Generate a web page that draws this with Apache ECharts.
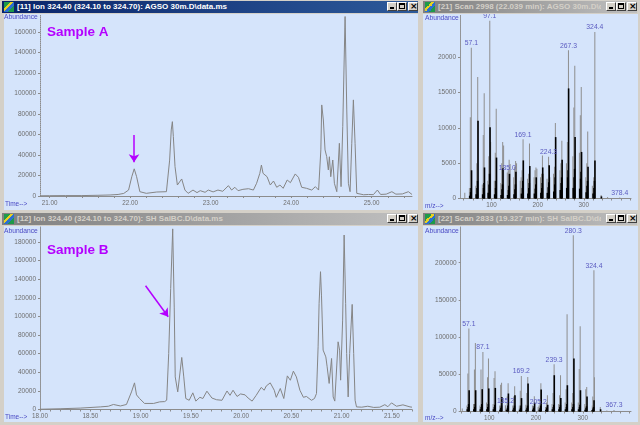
<!DOCTYPE html>
<html>
<head>
<meta charset="utf-8">
<script src="https://cdn.jsdelivr.net/npm/echarts@6/dist/echarts.min.js"></script>
<style>
html, body { margin: 0; padding: 0; width: 640px; height: 425px; overflow: hidden; background: #d4d0c8; font-family: "Liberation Sans", Arial, sans-serif; }
.bar { position: absolute; height: 12px; overflow: hidden; white-space: nowrap; color: #d4d0c8; font-weight: bold; font-size: 8px; line-height: 12px; background: linear-gradient(to right, #808080, #c0c0c0); }
.bar.active { background: linear-gradient(to right, #0a246a, #2d5a9a); color: #fff; }
.ico { position: absolute; left: 2px; top: 1px; width: 10px; height: 10px; background: linear-gradient(135deg, #1f9a4a 0 35%, #e8d020 35% 50%, #2c6fd0 50% 70%, #1f9a4a 70%); }
.ttl { position: absolute; left: 15px; top: 0; right: 36px; overflow: hidden; }
.btn { position: absolute; top: 1px; width: 10px; height: 9px; box-sizing: border-box; background: #d4d0c8; border: 1px solid; border-color: #fff #404040 #404040 #fff; }
.btn.min::after { content: ''; position: absolute; left: 2px; top: 4px; width: 4px; height: 2px; background: #000; }
.btn.max::after { content: ''; position: absolute; left: 1px; top: 0; width: 4px; height: 3px; border: 1px solid #000; border-top-width: 2px; }
.btn.cls::after { content: '\00d7'; position: absolute; left: 1px; top: -3px; font: bold 9px/12px "DejaVu Sans", sans-serif; color: #000; }
.plot { position: absolute; background: #d5e4fb; }
</style>
</head>
<body>
<div class="bar active" style="left:2px;top:1px;width:416px"><div class="ico"></div><div class="ttl">[11] Ion 324.40 (324.10 to 324.70): AGSO 30m.D\data.ms</div><div class="btn min" style="right:21px"></div><div class="btn max" style="right:11px"></div><div class="btn cls" style="right:0"></div></div>
<div class="bar" style="left:423px;top:1px;width:214px"><div class="ico"></div><div class="ttl">[21] Scan 2998 (22.039 min): AGSO 30m.D\data.ms</div><div class="btn min" style="right:21px"></div><div class="btn max" style="right:11px"></div><div class="btn cls" style="right:0"></div></div>
<div class="bar" style="left:2px;top:213px;width:416px"><div class="ico"></div><div class="ttl">[12] Ion 324.40 (324.10 to 324.70): SH SalBC.D\data.ms</div><div class="btn min" style="right:21px"></div><div class="btn max" style="right:11px"></div><div class="btn cls" style="right:0"></div></div>
<div class="bar" style="left:423px;top:213px;width:214px"><div class="ico"></div><div class="ttl">[22] Scan 2833 (19.327 min): SH SalBC.D\data.ms</div><div class="btn min" style="right:21px"></div><div class="btn max" style="right:11px"></div><div class="btn cls" style="right:0"></div></div>

<div id="ticA" class="plot" style="left:4px;top:14px;width:414px;height:196px"></div>
<div id="specA" class="plot" style="left:423px;top:14px;width:215px;height:196px"></div>
<div id="ticB" class="plot" style="left:4px;top:226px;width:414px;height:196px"></div>
<div id="specB" class="plot" style="left:423px;top:226px;width:215px;height:196px"></div>

<script>
// ion chromatogram, sample A: [time (min), abundance]
const chromA = [
  [20.88, 200], [21.00, 300], [21.20, 400], [21.40, 400], [21.60, 700], [21.75, 1000], [21.85, 1500],
  [21.92, 2500], [21.98, 5800], [22.02, 18800], [22.05, 26500], [22.08, 18800], [22.12, 4200],
  [22.20, 2600], [22.33, 3900], [22.45, 4200], [22.474, 5800], [22.49, 35000], [22.51, 64400],
  [22.524, 72500], [22.536, 57900], [22.557, 28600], [22.586, 10700], [22.61, 11000], [22.64, 16600],
  [22.68, 5800], [22.72, 2600], [22.78, 5800], [22.83, 3300], [22.87, 5200], [22.93, 3600],
  [22.97, 5800], [23.03, 4000], [23.09, 5800], [23.15, 4600], [23.22, 10100], [23.26, 5800],
  [23.30, 8500], [23.34, 5200], [23.40, 6500], [23.47, 7100], [23.53, 5800], [23.57, 12400],
  [23.61, 22100], [23.63, 30200], [23.65, 22100], [23.70, 18800], [23.74, 10700], [23.78, 14600],
  [23.82, 8500], [23.86, 10700], [23.90, 7500], [23.95, 15600], [23.99, 13000], [24.05, 21500],
  [24.09, 18200], [24.13, 8500], [24.19, 7500], [24.255, 5800], [24.30, 9100], [24.34, 5800],
  [24.358, 5800], [24.368, 44900], [24.379, 88800], [24.399, 74100], [24.420, 44900], [24.441, 38300],
  [24.461, 25400], [24.474, 38300], [24.491, 18800], [24.516, 35100], [24.536, 12400], [24.566, 4200],
  [24.598, 51400], [24.619, 9100], [24.640, 67600], [24.669, 175000], [24.690, 83900], [24.710, 12400],
  [24.731, 4200], [24.752, 51400], [24.772, 93700], [24.793, 51400], [24.814, 2600], [24.834, 1000],
  [24.90, 1200], [24.96, 1500], [25.02, 1300], [25.07, 5800], [25.11, 1500], [25.18, 1800],
  [25.25, 4200], [25.30, 1800], [25.38, 2000], [25.455, 4200], [25.50, 1500]
];

// ion chromatogram, sample B
const chromB = [
  [18.00, 300], [18.20, 800], [18.40, 1500], [18.60, 2800], [18.68, 3500], [18.73, 5400], [18.80, 3800],
  [18.86, 5400], [18.91, 18900], [18.94, 28600], [18.96, 15700], [18.99, 11800], [19.04, 6500],
  [19.13, 6500], [19.19, 8200], [19.24, 8500], [19.26, 10000], [19.28, 60000], [19.30, 130000],
  [19.32, 194000], [19.335, 110000], [19.345, 35000], [19.37, 18900], [19.41, 55900], [19.43, 35000],
  [19.45, 11800], [19.484, 9900], [19.52, 17900], [19.55, 9000], [19.59, 13100], [19.62, 11800],
  [19.66, 19700], [19.71, 12300], [19.756, 10500], [19.81, 9900], [19.86, 19900], [19.89, 15200],
  [19.92, 20700], [19.96, 14000], [19.995, 16700], [20.04, 15700], [20.07, 12300], [20.11, 9000],
  [20.15, 15200], [20.20, 23700], [20.23, 20700], [20.25, 25200], [20.29, 28600], [20.33, 20700],
  [20.35, 13100], [20.39, 22600], [20.425, 11800], [20.46, 36100], [20.49, 31400], [20.52, 41200],
  [20.55, 35000], [20.585, 20700], [20.62, 13100], [20.65, 14000], [20.70, 9900], [20.73, 11800],
  [20.75, 17200], [20.766, 67300], [20.776, 114000], [20.79, 148000], [20.80, 122000], [20.816, 63800],
  [20.832, 62000], [20.843, 56500], [20.856, 45800], [20.876, 28000], [20.90, 54800], [20.916, 13500],
  [20.932, 9000], [20.965, 72700], [20.98, 63800], [20.99, 31500], [21.01, 96000], [21.025, 187400],
  [21.04, 114000], [21.05, 60200], [21.065, 13500], [21.08, 60200], [21.105, 112900], [21.12, 60200],
  [21.134, 10000], [21.148, 2800], [21.20, 2500], [21.26, 3500], [21.32, 2200], [21.38, 2500],
  [21.43, 5200], [21.46, 3000], [21.496, 7100], [21.546, 3500], [21.61, 5000], [21.68, 2800], [21.70, 2500]
];

// mass spectrum, scan 2998 (sample A): [m/z, abundance]
const specAGray = [
  [43, 800], [53, 1500], [55, 11500], [57.1, 21350], [67, 1800], [69, 5000], [71, 17200],
  [81, 2000], [83, 9000], [85, 14900], [93, 2500], [95, 6000], [97.1, 25200], [99, 8000],
  [107, 2500], [109, 6500], [111, 12700], [121, 2200], [123, 5000], [125, 8000], [127, 7500],
  [135.0, 3700], [137, 4000], [139, 5500], [141, 4900], [149, 3000], [151, 4500], [153, 5300],
  [155, 5000], [163, 2500], [165, 3000], [167, 4000], [169.1, 8400], [179, 2800], [181, 3500],
  [183, 7800], [193, 3000], [195, 4000], [197, 4400], [199, 4200], [207, 3000], [209, 3500],
  [211, 6100], [213, 3500], [221, 2800], [224.3, 5900], [227, 3000], [235, 3500], [237, 4500],
  [239, 10700], [249, 4000], [251, 5000], [253, 8200], [263, 5000], [265, 8000], [267.3, 21000],
  [277, 6000], [279, 12900], [281, 18800], [291, 6500], [293, 11800], [295, 15800], [305, 3000],
  [307, 5000], [309, 9500], [319, 1800], [322, 3000], [324.4, 23600], [338, 500], [352, 200], [378.4, 150]
];
const specABlack = [
  [53, 400], [55, 900], [56, 1500], [57, 4000], [67, 600], [69, 1500], [70, 2500], [71, 11000],
  [81, 600], [83, 1500], [84, 2200], [85, 4400], [93, 800], [95, 2000], [96, 3500], [97, 10100],
  [107, 600], [109, 1500], [110, 2500], [111, 5800], [121, 500], [123, 1300], [124, 2000], [125, 4300],
  [135, 500], [137, 1200], [138, 1800], [139, 3500], [149, 600], [151, 1300], [152, 2000], [153, 3800],
  [165, 700], [167, 1500], [168, 2500], [169, 5400], [179, 700], [181, 1500], [182, 2200], [183, 4600],
  [193, 700], [195, 1400], [196, 2000], [197, 3000], [207, 800], [209, 1500], [210, 2200], [211, 4400],
  [221, 800], [223, 1600], [224, 2300], [225, 4700], [235, 1000], [237, 2000], [238, 3000], [239, 8700],
  [249, 1200], [251, 2200], [252, 3000], [253, 5500], [263, 1500], [265, 3000], [266, 4000], [267, 15600],
  [277, 1500], [279, 3000], [280, 4200], [281, 8700], [291, 1400], [293, 2800], [294, 3800], [295, 6600],
  [305, 900], [307, 1800], [308, 2500], [309, 4500], [320, 700], [322, 1500], [323, 2500], [324, 5400],
  [338, 300]
];
const specALabels = [57.1, 97.1, 135.0, 169.1, 224.3, 267.3, 324.4, 378.4];

// mass spectrum, scan 2833 (sample B)
const specBGray = [
  [43, 4000], [53, 8000], [55, 51000], [57.1, 111500], [67, 10000], [69, 56500], [71, 92200],
  [81, 8000], [83, 56500], [87.1, 80100], [95, 12000], [97, 46000], [99, 71200], [109, 10000],
  [111, 45000], [113, 54200], [123, 8000], [125, 36000], [127, 38500], [135.2, 8500], [139, 20000],
  [141, 38000], [151, 8000], [153, 20000], [155, 34000], [165, 8000], [167, 28000], [169.2, 47800],
  [179, 9000], [181, 25000], [183, 46400], [193, 8000], [197, 20600], [205.2, 6000], [207, 8000],
  [209, 15000], [211, 38000], [221, 6000], [223, 12000], [225, 21900], [235, 10000], [237, 25000],
  [239.3, 63600], [249, 10000], [251, 22000], [253, 48800], [263, 12000], [265, 30000], [267, 130800],
  [277, 12000], [279, 25000], [280.3, 237000], [291, 12000], [293, 57000], [295, 114700], [305, 10000],
  [307, 30000], [309, 33100], [321, 8000], [322, 20000], [324.4, 190000], [325.5, 46000], [338, 6200],
  [352, 1500], [367.3, 2000]
];
const specBBlack = [
  [53, 3000], [55, 6000], [56, 10000], [57, 28600], [67, 3000], [69, 6000], [70, 10000], [71, 28600],
  [81, 3000], [83, 6000], [84, 10000], [85, 30000], [95, 3000], [97, 6000], [98, 10000], [99, 31000],
  [109, 3000], [111, 6000], [112, 9000], [113, 31700], [123, 2500], [125, 5000], [126, 8000], [127, 19600],
  [137, 2500], [139, 5000], [140, 8000], [141, 24200], [151, 2500], [153, 5000], [154, 8000], [155, 22000],
  [165, 2500], [167, 5000], [168, 8000], [169, 18000], [179, 2500], [181, 5000], [182, 8000], [183, 37600],
  [193, 2500], [195, 4500], [196, 7000], [197, 12000], [207, 2500], [209, 5000], [210, 8000], [211, 29600],
  [221, 2500], [223, 4500], [224, 6500], [225, 9000], [235, 3000], [237, 6000], [238, 9000], [239, 48800],
  [249, 3000], [251, 6000], [252, 9000], [253, 18000], [263, 3000], [265, 6000], [266, 10000], [267, 35300],
  [277, 3000], [279, 6000], [280, 10000], [281, 71200], [291, 3000], [293, 6000], [294, 9000], [295, 28600],
  [305, 2500], [307, 5000], [308, 7000], [309, 20000], [320, 2000], [322, 4000], [323, 6000], [324, 15000],
  [338, 3000]
];
const specBLabels = [57.1, 87.1, 135.2, 169.2, 205.2, 239.3, 280.3, 324.4, 367.3];

// axis ticks and labels
const timeTicksA = [21.0, 21.2, 21.4, 21.6, 21.8, 22.0, 22.2, 22.4, 22.6, 22.8, 23.0, 23.2, 23.4, 23.6, 23.8, 24.0, 24.2, 24.4, 24.6, 24.8, 25.0, 25.2, 25.4];
const timeLabelsA = [21, 22, 23, 24, 25];
const timeTicksB = [18.0, 18.1, 18.2, 18.3, 18.4, 18.5, 18.6, 18.7, 18.8, 18.9, 19.0, 19.1, 19.2, 19.3, 19.4, 19.5, 19.6, 19.7, 19.8, 19.9, 20.0, 20.1, 20.2, 20.3, 20.4, 20.5, 20.6, 20.7, 20.8, 20.9, 21.0, 21.1, 21.2, 21.3, 21.4, 21.5, 21.6, 21.7];
const timeLabelsB = [18, 18.5, 19, 19.5, 20, 20.5, 21, 21.5];
const abundTicksA = [0, 20000, 40000, 60000, 80000, 100000, 120000, 140000, 160000];
const abundTicksB = [0, 20000, 40000, 60000, 80000, 100000, 120000, 140000, 160000, 180000];
const specTicksA = [0, 5000, 10000, 15000, 20000];
const specTicksB = [0, 50000, 100000, 150000, 200000];
const mzTicks = [40, 60, 80, 100, 120, 140, 160, 180, 200, 220, 240, 260, 280, 300, 320, 340, 360, 380, 400];
const mzLabels = [100, 200, 300];

// arrows pointing to the scanned peak: [time, abundance] start -> end
const arrowA = [[22.048, 59500], [22.048, 33000]];
const arrowB = [[19.05, 132900], [19.275, 99600]];

const FONT = '"Liberation Sans", Arial, sans-serif';
const GREY_TXT = '#6e6e6e';
const BLUE_TXT = '#4a4ac4';
const PURPLE = '#b400ff';

function txt(x, y, text, size, color, bold) {
    return {
        type: 'text', x: x, y: y, silent: true,
        style: { text: text, fill: color, font: (bold ? 'bold ' : '') + size + 'px ' + FONT, verticalAlign: 'middle' }
    };
}

function yAxisCfg(max, ticks) {
    return {
        type: 'value', min: 0, max: max,
        splitLine: { show: false },
        axisLine: { show: true, lineStyle: { color: '#8c8c8c', type: [1, 1] } },
        axisTick: { show: true, length: 2, customValues: ticks, lineStyle: { color: '#8c8c8c' } },
        axisLabel: { customValues: ticks, formatter: v => String(v), fontSize: 6.5, color: GREY_TXT, margin: 4, fontFamily: FONT }
    };
}

function xAxisCfg(min, max, ticks, labels, fmt) {
    return {
        type: 'value', min: min, max: max,
        splitLine: { show: false },
        axisLine: { show: true, onZero: false, lineStyle: { color: '#8c8c8c' } },
        axisTick: { show: true, length: 2, customValues: ticks, lineStyle: { color: '#8c8c8c' } },
        axisLabel: { customValues: labels, formatter: fmt, fontSize: 6.3, color: GREY_TXT, margin: 4, fontFamily: FONT }
    };
}

function chromOption(data, grid, xMin, xMax, yMax, xTicks, xLabels, yTicks, arrow, texts) {
    return {
        animation: false,
        grid: grid,
        xAxis: xAxisCfg(xMin, xMax, xTicks, xLabels, v => v.toFixed(2)),
        yAxis: yAxisCfg(yMax, yTicks),
        graphic: texts,
        series: [{
            type: 'line', data: data, showSymbol: false, silent: true,
            lineStyle: { color: '#858585', width: 1 },
            markLine: {
                silent: true, symbol: ['none', 'arrow'], symbolSize: 8,
                label: { show: false },
                lineStyle: { color: PURPLE, width: 1.5, type: 'solid' },
                data: [[{ coord: arrow[0] }, { coord: arrow[1] }]]
            }
        }]
    };
}

function specOption(gray, black, labels, grid, xMin, xMax, yMax, yTicks, texts) {
    const grayData = gray.map(d => labels.indexOf(d[0]) >= 0 ? {
        value: d,
        label: { show: true, position: 'top', distance: 1, formatter: d[0].toFixed(1), color: '#5a5ac0', fontSize: 6.8, fontFamily: FONT }
    } : d);
    return {
        animation: false,
        grid: grid,
        xAxis: xAxisCfg(xMin, xMax, mzTicks, mzLabels, v => String(v)),
        yAxis: yAxisCfg(yMax, yTicks),
        graphic: texts,
        series: [
            { type: 'bar', data: grayData, barWidth: 1, barGap: '-100%', silent: true, itemStyle: { color: '#8e8e8e' } },
            { type: 'bar', data: black, barWidth: 1.6, barGap: '-100%', silent: true, itemStyle: { color: '#000' } }
        ]
    };
}

const c1 = echarts.init(document.getElementById('ticA'));
c1.setOption(chromOption(chromA, { left: 36, right: 6, top: 1.5, bottom: 14 },
    20.88, 25.50, 176000, timeTicksA, timeLabelsA, abundTicksA, arrowA, [
        txt(0, 3.5, 'Abundance', 6.7, BLUE_TXT),
        txt(43, 18, 'Sample A', 13.5, PURPLE, true),
        txt(1, 190.3, 'Time-->', 6.5, BLUE_TXT)
    ]));

const c2 = echarts.init(document.getElementById('specA'));
c2.setOption(specOption(specAGray, specABlack, specALabels, { left: 37, right: 7, top: 1, bottom: 11.5 },
    32, 402, 26000, specTicksA, [
        txt(2, 3.7, 'Abundance', 6.7, BLUE_TXT),
        txt(2, 192.7, 'm/z-->', 6.5, BLUE_TXT)
    ]));

const c3 = echarts.init(document.getElementById('ticB'));
c3.setOption(chromOption(chromB, { left: 36, right: 6, top: 1, bottom: 12.5 },
    18.00, 21.70, 196000, timeTicksB, timeLabelsB, abundTicksB, arrowB, [
        txt(0, 4.7, 'Abundance', 6.7, BLUE_TXT),
        txt(43, 24.7, 'Sample B', 13.5, PURPLE, true),
        txt(1, 191.3, 'Time-->', 6.5, BLUE_TXT)
    ]));

const c4 = echarts.init(document.getElementById('specB'));
c4.setOption(specOption(specBGray, specBBlack, specBLabels, { left: 37.7, right: 7, top: 1, bottom: 10.5 },
    39, 403, 248000, specTicksB, [
        txt(2, 4.7, 'Abundance', 6.7, BLUE_TXT),
        txt(2, 192.5, 'm/z-->', 6.5, BLUE_TXT)
    ]));
</script>
</body>
</html>
